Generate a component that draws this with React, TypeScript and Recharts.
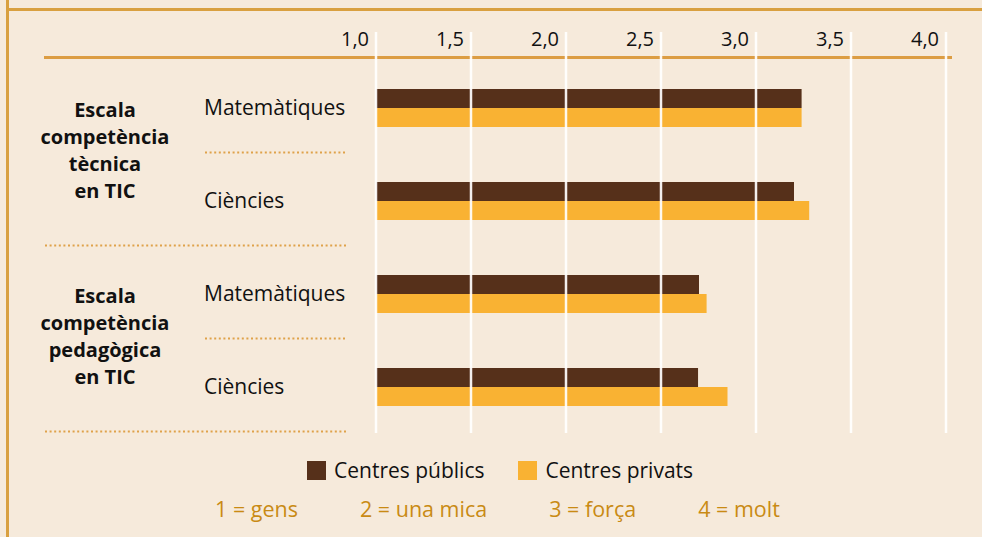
import { BarChart, Bar, XAxis, YAxis, ReferenceLine } from "recharts";

const categories = ["tec-mat", "tec-cie", "ped-mat", "ped-cie"];
const subjectLabels = ["Matemàtiques", "Ciències", "Matemàtiques", "Ciències"];
const groupLabels = [
  ["Escala", "competència", "tècnica", "en TIC"],
  ["Escala", "competència", "pedagògica", "en TIC"],
];
const publics = [3.24, 3.2, 2.7, 2.695];
const privats = [3.24, 3.28, 2.74, 2.85];
const xTicks = [1, 1.5, 2, 2.5, 3, 3.5, 4];
const scaleLabels = ["1 = gens", "2 = una mica", "3 = força", "4 = molt"];

const series = [
  { key: "publics", name: "Centres públics", color: "#56301a" },
  { key: "privats", name: "Centres privats", color: "#f9b233" },
];

const data = categories.map((c, i) => ({
  cat: c,
  publics: publics[i],
  privats: privats[i],
}));

const FONT = "'Open Sans', sans-serif";
const BG = "#f6eadb";
const LINE = "#dc9d43";

const XTick = ({ x, payload }: any) => (
  <text
    x={x - 7}
    y={46}
    textAnchor="end"
    fontFamily={FONT}
    fontSize={20}
    fill="#111"
  >
    {payload.value.toFixed(1).replace(".", ",")}
  </text>
);

const YTick = ({ y, payload, index }: any) => {
  const group = index % 2 === 0 ? groupLabels[index / 2] : null;
  const longSep = index % 2 === 1;
  return (
    <g>
      <text
        x={204}
        y={y}
        dy={7}
        fontFamily={FONT}
        fontSize={21}
        fill="#111"
      >
        {subjectLabels[categories.indexOf(payload.value)]}
      </text>
      <line
        x1={longSep ? 45 : 205}
        x2={346}
        y1={y + 45}
        y2={y + 45}
        stroke="#dfa24a"
        strokeWidth={2}
        strokeDasharray="2 2.6"
      />
      {group &&
        group.map((t, k) => (
          <text
            key={k}
            x={105}
            y={y + 1 + k * 27}
            dy={8}
            textAnchor="middle"
            fontFamily={FONT}
            fontWeight={700}
            fontSize={20}
            fill="#111"
          >
            {t}
          </text>
        ))}
    </g>
  );
};

export default function App() {
  return (
    <div
      style={{
        position: "absolute",
        left: 0,
        top: 0,
        width: 982,
        height: 537,
        background: BG,
        overflow: "hidden",
      }}
    >
      <div style={{ position: "absolute", left: 6, top: 0, width: 3, height: 537, background: "#d9a040" }} />
      <div style={{ position: "absolute", left: 6, top: 8, width: 976, height: 3, background: "#d9a040" }} />
      <div style={{ position: "absolute", left: 44, top: 56, width: 908, height: 3, background: LINE }} />
      <div style={{ position: "absolute", left: 0, top: 0 }}>
        <BarChart
          width={982}
          height={537}
          data={data}
          layout="vertical"
          barGap={0}
          barSize={19}
          margin={{ top: 0, right: 36, left: 0, bottom: 104 }}
        >
          <XAxis
            type="number"
            orientation="top"
            domain={[1, 4]}
            ticks={xTicks}
            height={32}
            axisLine={false}
            tickLine={false}
            tick={XTick}
          />
          <YAxis
            type="category"
            dataKey="cat"
            width={376}
            padding={{ top: 29, bottom: 0 }}
            axisLine={false}
            tickLine={false}
            tick={YTick}
          />
          {series.map((s) => (
            <Bar
              key={s.key}
              dataKey={s.key}
              name={s.name}
              fill={s.color}
              isAnimationActive={false}
            />
          ))}
          {xTicks.map((t) => (
            <ReferenceLine key={t} x={t} stroke="#ffffff" strokeWidth={2.5} strokeOpacity={0.92} />
          ))}
        </BarChart>
      </div>
      <div
        style={{
          position: "absolute",
          left: 307,
          top: 456,
          display: "flex",
          gap: 34,
          fontFamily: FONT,
          fontSize: 21,
          color: "#111",
        }}
      >
        {series.map((s) => (
          <div key={s.key} style={{ display: "flex", alignItems: "center", gap: 8 }}>
            <span style={{ width: 19, height: 19, background: s.color, display: "inline-block" }} />
            <span>{s.name}</span>
          </div>
        ))}
      </div>
      <div
        style={{
          position: "absolute",
          left: 215,
          top: 494,
          display: "flex",
          gap: 62,
          fontFamily: FONT,
          fontSize: 21.5,
          color: "#c98a14",
        }}
      >
        {scaleLabels.map((t) => (
          <span key={t}>{t}</span>
        ))}
      </div>
    </div>
  );
}
